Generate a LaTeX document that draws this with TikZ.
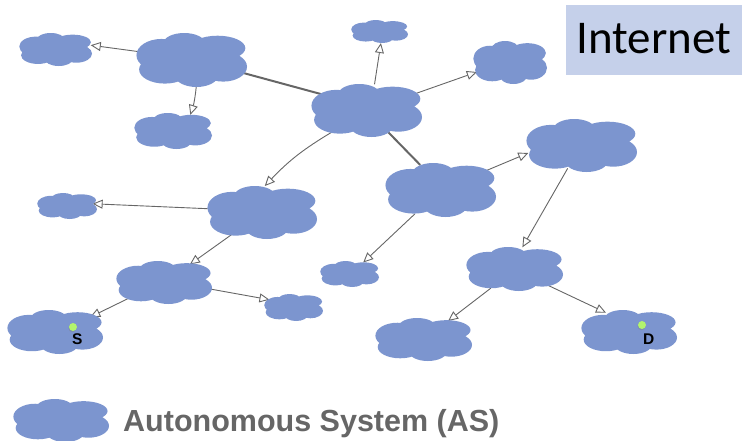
\documentclass[tikz,border=0pt]{standalone}
\usepackage{fontspec}
\setmainfont{Liberation Sans}
\newfontfamily\boxfont{Carlito}
\usetikzlibrary{arrows.meta,positioning,shapes.geometric,shadows}
\definecolor{ascolor}{HTML}{7C95CF}
\definecolor{inetcolor}{HTML}{C5D0EA}
\definecolor{hostcolor}{HTML}{B2F56E}
\definecolor{linkcolor}{HTML}{666666}
\pgfdeclarelayer{bg}
\pgfsetlayers{bg,main}
\tikzset{
  asbox/.style={ellipse, inner sep=0pt, outer sep=0pt},
  arrow/.style={-{Triangle[open, length=10pt, width=9pt]}, linkcolor, line width=0.9pt},
  backbone/.style={linkcolor, line width=2pt},
  host/.style={circle, fill=hostcolor, inner sep=0pt, minimum size=8pt,
    drop shadow={shadow xshift=-0.6pt, shadow yshift=-1.2pt, opacity=0.35}},
  hostlabel/.style={font=\bfseries\fontsize{15.5}{16}\selectfont, inner sep=0pt},
  inet/.style={fill=inetcolor, inner sep=0pt, minimum width=176pt, minimum height=70pt,
    text depth=4pt, font=\boxfont\fontsize{47}{48}\selectfont},
  legend/.style={font=\bfseries\fontsize{30.5}{31}\selectfont, text=black!60, inner sep=0pt},
}
% name, x, y, width, height
\newcommand{\ascloud}[5]{
  \fill[ascolor, shift={(#2,#3)}, xscale=#4, yscale=#5]
    (0,0) ellipse [x radius=.35, y radius=.35]
    (-.27,-.09) ellipse [x radius=.226, y radius=.30]
    (-.066,-.31) ellipse [x radius=.187, y radius=.19]
    (.235,-.22) ellipse [x radius=.25, y radius=.23]
    (.286,.125) ellipse [x radius=.214, y radius=.275]
    (.045,.28) ellipse [x radius=.196, y radius=.22]
    (-.24,.175) ellipse [x radius=.232, y radius=.262];
  \node[asbox, minimum width=#4pt, minimum height=#5pt] (#1) at (#2,#3) {};
}
\begin{document}
\begin{tikzpicture}[x=1pt, y=-1pt]
  \useasboundingbox (0,0) rectangle (742,440);

  \ascloud{west}{191.5}{60}{111}{54}
  \ascloud{westa}{55.5}{49.5}{73}{33}
  \ascloud{westb}{173}{131}{78}{36}
  \ascloud{core}{366.5}{110.5}{111}{53}
  \ascloud{north}{379.5}{31.5}{57}{23}
  \ascloud{east}{510}{62.5}{74}{43}
  \ascloud{mideast}{581.5}{145.5}{111}{53}
  \ascloud{mid}{440.5}{190}{111}{54}
  \ascloud{south}{262}{212.5}{110}{53}
  \ascloud{southa}{67}{206}{60}{26}
  \ascloud{lower}{164}{282.5}{96}{43}
  \ascloud{src}{55}{332}{96}{44}
  \ascloud{lowera}{293.5}{307.5}{59}{27}
  \ascloud{midb}{349.5}{274}{59}{26}
  \ascloud{far}{514.5}{269}{97}{44}
  \ascloud{fara}{423.5}{339.5}{97}{43}
  \ascloud{dst}{629}{332}{96}{44}
  \ascloud{key}{61}{420.5}{96}{43}

  \begin{pgfonlayer}{bg}
    \draw[backbone] (west.346) -- (core.160);
    \draw[backbone, shorten <=-4pt] (core.315) -- (mid.129);
    \draw[arrow] (west.171) -- (westa.7);
    \draw[arrow] (west.280) to[bend left=6] (westb.43);
    \draw[arrow] (core.73) -- (north.277);
    \draw[arrow] (core.19) -- (east.196);
    \draw[arrow] (core.212) to[bend right=8] (south.84);
    \draw[arrow] (mid.23) -- (mideast.188);
    \draw[arrow, shorten <=-3pt] (mideast.239) -- (far.70);
    \draw[arrow] (mid.223) -- (midb.40);
    \draw[arrow, shorten >=-4pt] (south.176) -- (southa.4);
    \draw[arrow] (south.216) -- (lower.35);
    \draw[arrow] (lower.204) -- (src.23);
    \draw[arrow] (lower.352) -- (lowera.162);
    \draw[arrow] (far.219) -- (fara.37);
    \draw[arrow] (far.334) -- (dst.140);
  \end{pgfonlayer}

  \node[host] (s) at (73,327) {};
  \node[hostlabel, below right=3pt and -4pt of s] (slabel) {S};
  \node[host] (d) at (642,325) {};
  \node[hostlabel, below right=6pt and -2pt of d] (dlabel) {D};

  \node[inet] (internet) at (654,40) {Internet};
  \node[legend, right=14pt of key, yshift=-3pt] (keylabel) {Autonomous System (AS)};
\end{tikzpicture}
\end{document}
